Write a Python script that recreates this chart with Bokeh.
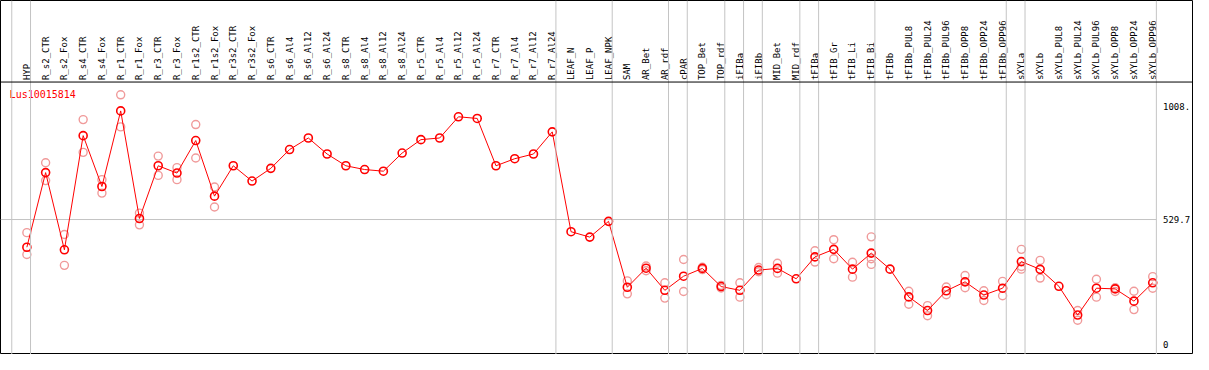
import numpy as np
from bokeh.plotting import figure
from bokeh.models import Range1d, Span
from bokeh.core.properties import value
from bokeh.embed import file_html
from bokeh.resources import INLINE

# ---------------- data ----------------
series_name = "Lus10015814"

categories = [
    "HYP", "R_s2_CTR", "R_s2_Fox", "R_s4_CTR", "R_s4_Fox", "R_r1_CTR", "R_r1_Fox",
    "R_r3_CTR", "R_r3_Fox", "R_r1s2_CTR", "R_r1s2_Fox", "R_r3s2_CTR", "R_r3s2_Fox",
    "R_s6_CTR", "R_s6_Al4", "R_s6_Al12", "R_s6_Al24", "R_s8_CTR", "R_s8_Al4",
    "R_s8_Al12", "R_s8_Al24", "R_r5_CTR", "R_r5_Al4", "R_r5_Al12", "R_r5_Al24",
    "R_r7_CTR", "R_r7_Al4", "R_r7_Al12", "R_r7_Al24", "LEAF_N", "LEAF_P", "LEAF_NPK",
    "SAM", "AR_Bet", "AR_rdf", "cPAR", "TOP_Bet", "TOP_rdf", "iFIBa", "iFIBb",
    "MID_Bet", "MID_rdf", "tFIBa", "tFIB_Gr", "tFIB_Li", "tFIB_Bi", "tFIBb",
    "tFIBb_PUL8", "tFIBb_PUL24", "tFIBb_PUL96", "tFIBb_OPP8", "tFIBb_OPP24",
    "tFIBb_OPP96", "sXYLa", "sXYLb", "sXYLb_PUL8", "sXYLb_PUL24", "sXYLb_PUL96",
    "sXYLb_OPP8", "sXYLb_OPP24", "sXYLb_OPP96",
]

means = [
    412, 729, 401, 886, 670, 991, 534, 758, 727, 865, 629, 758, 693,
    747, 827, 876, 808, 758, 742, 735, 812, 869, 876, 966, 959,
    758, 788, 808, 902, 478, 455, 522,
    242, 323, 229, 289, 322, 245, 229, 315, 322, 278,
    371, 403, 319, 387, 319, 201, 143, 227, 265, 209, 238,
    351, 318, 246, 124, 238, 235, 183, 261,
]

rep_cats = [
    "HYP", "HYP", "R_s2_CTR", "R_s2_CTR", "R_s2_Fox", "R_s2_Fox",
    "R_s4_CTR", "R_s4_CTR", "R_s4_Fox", "R_s4_Fox", "R_r1_CTR", "R_r1_CTR",
    "R_r1_Fox", "R_r1_Fox", "R_r3_CTR", "R_r3_CTR", "R_r3_Fox", "R_r3_Fox",
    "R_r1s2_CTR", "R_r1s2_CTR", "R_r1s2_Fox", "R_r1s2_Fox",
    "SAM", "SAM", "AR_Bet", "AR_Bet", "AR_rdf", "AR_rdf", "cPAR", "cPAR",
    "TOP_Bet", "TOP_Bet", "TOP_rdf", "TOP_rdf", "iFIBa", "iFIBa", "iFIBb", "iFIBb",
    "MID_Bet", "MID_Bet", "tFIBa", "tFIBa", "tFIB_Gr", "tFIB_Gr",
    "tFIB_Li", "tFIB_Li", "tFIB_Bi", "tFIB_Bi", "tFIB_Bi",
    "tFIBb_PUL8", "tFIBb_PUL8", "tFIBb_PUL24", "tFIBb_PUL24",
    "tFIBb_PUL96", "tFIBb_PUL96", "tFIBb_OPP8", "tFIBb_OPP8",
    "tFIBb_OPP24", "tFIBb_OPP24", "tFIBb_OPP96", "tFIBb_OPP96",
    "sXYLa", "sXYLa", "sXYLa", "sXYLb", "sXYLb",
    "sXYLb_PUL24", "sXYLb_PUL24", "sXYLb_PUL96", "sXYLb_PUL96",
    "sXYLb_OPP8", "sXYLb_OPP8", "sXYLb_OPP24", "sXYLb_OPP24",
    "sXYLb_OPP96", "sXYLb_OPP96",
]
rep_vals = [
    474, 381, 771, 695, 466, 335,
    954, 815, 699, 642, 1059.4, 923,
    557, 507, 799, 717, 750, 699,
    933, 791, 668, 583,
    269, 214, 332, 312, 261, 196, 360, 224,
    327, 317, 250, 239, 261, 200, 326, 308,
    344, 302, 397, 349, 444, 363,
    348, 285, 456, 363, 339,
    225, 170, 164, 121,
    243, 210, 292, 240,
    227, 186, 267, 206,
    403, 319, 330, 356, 281,
    143, 102, 276, 200,
    240, 224, 225, 147,
    287, 238,
]

# sizes of the category groups (separated by grey vertical lines)
group_sizes = [1, 28, 3, 3, 1, 2, 1, 1, 2, 1, 3, 7, 1, 7]

tick_values = [0, 529.7, 1008]
tick_labels = ["0", "529.7", "1008."]

# ---------------- layout (reference pixel geometry) ----------------
BOX_W, BOX_H = 1208.0, 369.0
X0, DX = 26.7, 19.0
Y_ZERO_PX, Y_MAX_PX, HEADER_PX = 358.3, 98.3, 85.0
SEP_OFF = 3.7 / DX

n = len(categories)
xs = list(range(n))
idx = {c: i for i, c in enumerate(categories)}
rep_x = [idx[c] for c in rep_cats]

ymax = max(max(means), max(rep_vals))
k = ymax / (Y_ZERO_PX - Y_MAX_PX)
x_start, x_end = -X0 / DX, (BOX_W - X0) / DX
y_start, y_end = -(BOX_H - Y_ZERO_PX) * k, Y_ZERO_PX * k
header_y = (Y_ZERO_PX - HEADER_PX) * k

p = figure(width=1193, height=354, output_backend="svg", toolbar_location=None,
           x_range=Range1d(x_start, x_end), y_range=Range1d(y_start, y_end),
           x_axis_type=None, y_axis_type=None, min_border=0,
           background_fill_color="white", border_fill_color="white")
p.outline_line_color = "black"
p.outline_line_width = 1
p.xgrid.visible = False
p.ygrid.visible = False

FONT = value("DejaVu Sans Mono")
GRID = "#c4c4c4"

# group separators
bounds = list(np.cumsum(group_sizes) - 1)
for b in [-1] + bounds:
    p.add_layout(Span(location=b + SEP_OFF, dimension="height",
                      line_color=GRID, line_width=1))

last_sep = bounds[-1] + SEP_OFF
# midline grid
p.segment(x0=[x_start], x1=[last_sep], y0=[ymax / 2], y1=[ymax / 2],
          line_color=GRID, line_width=1)

# header separator
p.add_layout(Span(location=header_y, dimension="width", line_color="black", line_width=1))

# category labels
p.text(x=xs, y=[header_y] * n, text=categories, angle=np.pi / 2,
       text_align="left", text_baseline="middle", y_offset=-2,
       text_font=FONT, text_font_size="9px", text_color="black")

# replicates
p.scatter(x=rep_x, y=rep_vals, marker="circle", size=8, fill_color=None,
          line_color="#f09a9a", line_width=1.4)

# mean line
p.line(x=xs, y=means, line_color="red", line_width=1)
p.scatter(x=xs, y=means, marker="circle", size=8, fill_color=None,
          line_color="red", line_width=1.6)

# series name
p.text(x=[-0.92], y=[ymax], text=[series_name], text_align="left",
       text_baseline="middle", text_font=FONT, text_font_size="10px",
       text_color="red")

# value labels at right
p.text(x=[n - 1 + 0.55] * len(tick_values), y=tick_values, text=tick_labels,
       text_align="left", text_baseline="middle", text_font=FONT,
       text_font_size="9px", text_color="black")

open("out.html", "w").write(file_html(p, INLINE))
